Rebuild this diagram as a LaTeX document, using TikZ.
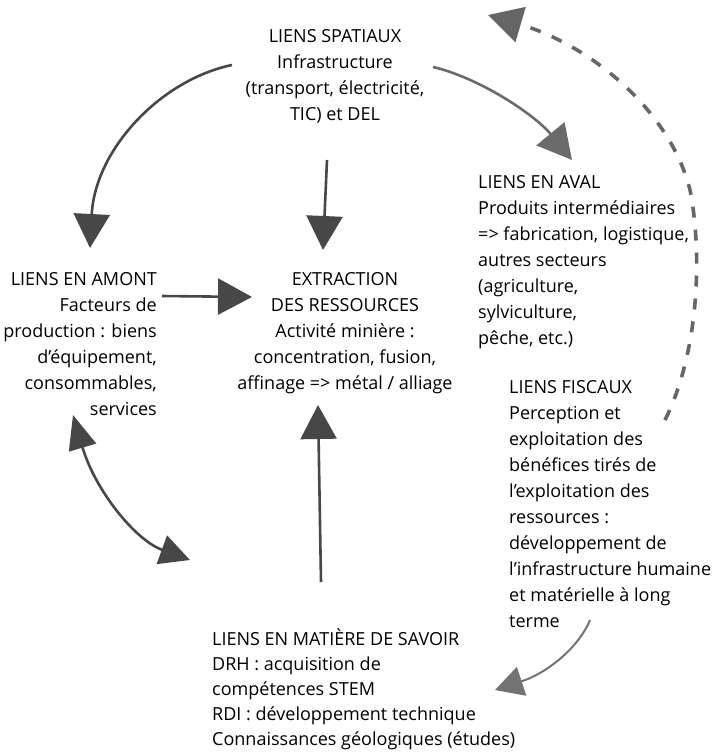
\documentclass[tikz,border=0pt]{standalone}
\usepackage{fontspec}
\setmainfont{Open Sans}
\usetikzlibrary{arrows.meta}

\tikzset{
  txt/.style={inner sep=0pt, font=\fontsize{18}{26}\selectfont},
  arr/.style={line width=2.6pt, draw=#1, -{Triangle[length=34pt,width=36pt]}},
  arr/.default={black!72}
}

\begin{document}
\begin{tikzpicture}[x=1pt,y=-1pt]
\useasboundingbox (0,0) rectangle (714,752);

% blocks of text
\node[txt, anchor=north, align=center] (spatiaux) at (335,29) {LIENS SPATIAUX\\Infrastructure\\(transport, électricité,\\TIC) et DEL};
\node[txt, anchor=north, align=center] (extraction) at (345,272) {EXTRACTION\\DES RESSOURCES\\Activité minière :\\concentration, fusion,\\affinage => métal / alliage};
\node[txt, anchor=north east, align=right] (amont) at (157,272) {LIENS EN AMONT\\Facteurs de\\production : biens\\d'équipement,\\consommables,\\services};
\node[txt, anchor=north west, align=left] (aval) at (478,175) {LIENS EN AVAL\\Produits intermédiaires\\=> fabrication, logistique,\\autres secteurs\\(agriculture,\\sylviculture,\\pêche, etc.)};
\node[txt, anchor=north west, align=left] (fiscaux) at (509,380) {LIENS FISCAUX\\Perception et\\exploitation des\\bénéfices tirés de\\l'exploitation des\\ressources :\\développement de\\l'infrastructure humaine\\et matérielle à long\\terme};
\node[txt, font=\fontsize{18}{25}\selectfont, anchor=north west, align=left] (savoir) at (212,629) {LIENS EN MATIÈRE DE SAVOIR\\DRH : acquisition de\\compétences STEM\\RDI : développement technique\\Connaissances géologiques (études)};

% free ends of the connectors
\coordinate (spW) at (232,65);
\coordinate (spE) at (433,67);
\coordinate (spS) at (327,160);
\coordinate (amT) at (90,248);
\coordinate (avT) at (572,160);
\coordinate (exN) at (323,250);
\coordinate (amE) at (162,296);
\coordinate (exW) at (252,297);
\coordinate (exS) at (318,405);
\coordinate (saN) at (321,582);
\coordinate (amS) at (73,415);
\coordinate (saW) at (190,560);
\coordinate (fiN) at (665,420);
\coordinate (topR) at (488,15);
\coordinate (fiS) at (590,620);
\coordinate (saE) at (495,690);

% connectors
\draw[arr] (spW) .. controls (160,80) and (95,150) .. (amT);
\draw[arr=black!58] (spE) .. controls (480,78) and (535,115) .. (avT);
\draw[arr] (spS) -- (exN);
\draw[arr] (amE) -- (exW);
\draw[arr] (saN) -- (exS);
\draw[arr, {Triangle[length=34pt,width=28pt]}-{Triangle[length=30pt,width=30pt]}] (amS) .. controls (95,490) and (135,540) .. (saW);
\draw[arr=black!60, line width=3.6pt, dash pattern=on 11pt off 12pt] (fiN) .. controls (700,350) and (702,250) .. (690,190) .. controls (670,110) and (590,45) .. (topR);
\draw[arr=black!55, line width=2pt, -{Triangle[length=28pt,width=30pt]}] (fiS) .. controls (580,645) and (550,672) .. (saE);
\end{tikzpicture}
\end{document}
